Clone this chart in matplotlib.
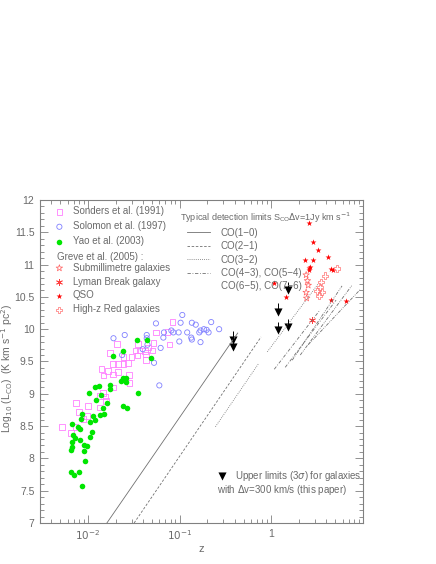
import numpy as np
import matplotlib.pyplot as plt
from matplotlib.lines import Line2D
from matplotlib.ticker import LogLocator, NullFormatter, MultipleLocator

plt.rcParams['font.family'] = ['Liberation Sans Narrow', 'Liberation Sans', 'DejaVu Sans']

# Sanders et al. (1991)
sanders_z = [0.0839, 0.0552, 0.0735, 0.0773, 0.0518, 0.0352, 0.0452, 0.0365, 0.0417, 0.0509,
             0.0330, 0.0430, 0.0347, 0.0299, 0.0430, 0.0244, 0.0207, 0.0175, 0.0187, 0.0213,
             0.0244, 0.0274, 0.0141, 0.0166, 0.0213, 0.0148, 0.0187, 0.0279, 0.0284, 0.0190,
             0.0136, 0.0156, 0.0146, 0.0158, 0.00746, 0.01008, 0.0134, 0.00798, 0.00898, 0.00518,
             0.00735, 0.00653, 0.00975]
sanders_L = [10.11, 9.95, 9.96, 9.76, 9.79, 9.77, 9.72, 9.67, 9.66, 9.67,
             9.67, 9.61, 9.59, 9.57, 9.52, 9.57, 9.77, 9.63, 9.46, 9.46,
             9.46, 9.48, 9.38, 9.35, 9.34, 9.28, 9.30, 9.29, 9.17, 9.10,
             8.97, 8.96, 9.01, 8.89, 8.86, 8.81, 8.79, 8.72, 8.61, 8.49,
             8.49, 8.39, 8.66]

# Solomon et al. (1997)
solomon_z = [0.107, 0.0552, 0.1025, 0.136, 0.150, 0.221, 0.270, 0.184, 0.169, 0.197,
             0.207, 0.164, 0.121, 0.0976, 0.0855, 0.0813, 0.0675, 0.0665, 0.134, 0.136,
             0.169, 0.0993, 0.0621, 0.0438, 0.0438, 0.0446, 0.0396, 0.0526, 0.0601, 0.0190,
             0.0252, 0.0236]
solomon_L = [10.22, 10.09, 10.10, 10.10, 10.07, 10.11, 10.00, 10.00, 9.98, 9.99,
             9.95, 9.95, 9.95, 9.95, 9.95, 9.98, 9.95, 9.87, 9.87, 9.84,
             9.80, 9.81, 9.71, 9.91, 9.86, 9.76, 9.69, 9.48, 9.13, 9.86,
             9.91, 9.60]

# Yao et al. (2003)
yao_z = [0.0347, 0.0438, 0.0493, 0.0352, 0.0187, 0.0240, 0.0119, 0.0132, 0.0172, 0.0172,
         0.01025, 0.0138, 0.0123, 0.0161, 0.0240, 0.0261, 0.0228, 0.0261, 0.0146, 0.0240,
         0.0270, 0.00867, 0.0115, 0.0136, 0.0148, 0.00839, 0.01043, 0.0119, 0.00675, 0.00773,
         0.00825, 0.01113, 0.00682, 0.01059, 0.00728, 0.00812, 0.00675, 0.00912, 0.00975, 0.00675,
         0.00658, 0.00898, 0.00921, 0.00653, 0.00798, 0.00710, 0.00861]
yao_L = [9.83, 9.83, 9.55, 9.01, 9.59, 9.67, 9.10, 9.12, 9.13, 9.07,
         9.01, 8.98, 8.90, 8.86, 9.25, 9.25, 9.20, 9.18, 8.78, 8.81,
         8.78, 8.68, 8.66, 8.67, 8.69, 8.61, 8.57, 8.59, 8.53, 8.48,
         8.46, 8.41, 8.36, 8.33, 8.31, 8.28, 8.26, 8.21, 8.19, 8.18,
         8.13, 8.11, 7.96, 7.79, 7.79, 7.75, 7.58]

# Greve et al. (2005)
smg_z = [2.40, 2.48, 2.53, 2.40, 2.43]
smg_L = [10.84, 10.75, 10.68, 10.57, 10.48]
lbg_z = [2.77]
lbg_L = [10.14]
qso_z = [2.61, 2.88, 3.24, 2.32, 2.84, 4.20, 2.65, 2.61, 2.57, 4.49, 4.76, 1.43, 4.46, 6.53, 1.08]
qso_L = [11.65, 11.35, 11.23, 11.07, 11.07, 11.11, 10.97, 10.94, 10.91, 10.93, 10.91, 10.50, 10.45, 10.43, 10.71]
hzrg_z = [5.26, 3.83, 3.49, 3.41, 3.14, 3.58, 3.30]
hzrg_L = [10.94, 10.83, 10.73, 10.65, 10.59, 10.57, 10.52]

# upper limits (this paper)
limit_z = [0.380, 0.380, 1.17, 1.17, 1.53, 1.53]
limit_L = [9.84, 9.73, 10.27, 9.98, 10.03, 10.60]

# detection limits for S_CO dv = 1 Jy km/s, read at the segment ends
co10_z, co10_L = [0.0161, 0.43], [7.0, 9.94]
co21_z, co21_L = [0.0319, 0.773], [7.0, 9.88]
co32_z, co32_L = [[0.246, 0.728], [0.905, 3.24]], [[8.49, 9.47], [9.65, 10.70]]
co43_z, co43_L = [[1.078, 3.41], [1.42, 5.09]], [[9.38, 10.30], [9.41, 10.45]]
co65_z, co65_L = [[1.69, 5.91], [2.07, 7.59], [2.53, 9.28]], [[9.52, 10.67], [9.60, 10.68], [9.76, 10.61]]

grey = '#808080'
txt = '#6a6a6a'
lc = '#707070'
fs = 7
dashdot = (0, (4, 2, 1, 2))
dashdotdot = (0, (4, 1.5, 1, 1.5, 1, 1.5))

fig = plt.figure(figsize=(4.36, 5.64), dpi=100)
ax = fig.add_axes([0.0917, 0.0727, 0.7408, 0.5727])
ax.set_xscale('log')

# detection limit lines
ax.plot(co10_z, co10_L, color=lc, lw=0.6, ls='-')
ax.plot(co21_z, co21_L, color=lc, lw=0.6, ls=(0, (3, 2)))
for zz, ll in zip(co32_z, co32_L):
    ax.plot(zz, ll, color=lc, lw=0.6, ls=(0, (1, 1.5)))
for zz, ll in zip(co43_z, co43_L):
    ax.plot(zz, ll, color=lc, lw=0.6, ls=dashdot)
for zz, ll in zip(co65_z, co65_L):
    ax.plot(zz, ll, color=lc, lw=0.6, ls=dashdotdot)

h_san = ax.scatter(sanders_z, sanders_L, marker='s', s=16, facecolors='none',
                   edgecolors='#ff80ff', linewidths=0.6)
h_sol = ax.scatter(solomon_z, solomon_L, marker='o', s=14, facecolors='none',
                   edgecolors='#8080ff', linewidths=0.6)
h_yao = ax.scatter(yao_z, yao_L, marker='o', s=16, color='#00e600', linewidths=0)
h_smg = ax.scatter(smg_z, smg_L, marker='*', s=24, facecolors='none',
                   edgecolors='#ff6060', linewidths=0.5)
h_lbg = ax.scatter(lbg_z, lbg_L, marker=(6, 2, 0), s=20, color='#ff4040', linewidths=0.6)
h_qso = ax.scatter(qso_z, qso_L, marker='*', s=20, color='#ff0000', linewidths=0)
h_hzr = ax.scatter(hzrg_z, hzrg_L, marker='P', s=20, facecolors='none',
                   edgecolors='#ff7070', linewidths=0.5)

# upper limits with arrows
ax.vlines(limit_z, limit_L, np.array(limit_L) + 0.13, color='black', lw=0.7)
h_lim = ax.scatter(limit_z, limit_L, marker='v', s=34, color='black', linewidths=0)

ax.set_xlim(0.003, 10)
ax.set_ylim(7, 12)

ax.set_xticks([0.01, 0.1, 1])
ax.set_xticklabels(['$10^{-2}$', '$10^{-1}$', '1'])
ax.xaxis.set_minor_locator(LogLocator(base=10, subs=np.arange(2, 10)))
ax.xaxis.set_minor_formatter(NullFormatter())
yt = np.arange(7, 12.01, 0.5)
ax.set_yticks(yt)
ax.set_yticklabels(['%g' % v for v in yt])
ax.yaxis.set_minor_locator(MultipleLocator(0.1))

ax.tick_params(which='both', direction='in', top=True, right=True, color=grey,
               labelcolor=txt, labelsize=7.5, width=0.6)
ax.tick_params(which='major', length=6, pad=4)
ax.tick_params(which='minor', length=3)
for sp in ax.spines.values():
    sp.set_color(grey)
    sp.set_linewidth(0.8)

ax.set_xlabel('z', color=txt, fontsize=8)
ax.xaxis.set_label_coords(0.5, -0.065)
ax.set_ylabel('Log$_{10}$ (L$_{\\rm CO}$)  (K km s$^{-1}$ pc$^2$)', color=txt, fontsize=7.5)
ax.yaxis.set_label_coords(-0.078, 0.48)

# left legend
leg1 = ax.legend([h_san, h_sol, h_yao],
                 ['Sonders et al. (1991)', 'Solomon et al. (1997)', 'Yao et al. (2003)'],
                 loc='upper left', bbox_to_anchor=(0.045, 0.98), frameon=False, fontsize=fs,
                 handlelength=1.0, handletextpad=0.9, labelspacing=0.5, borderpad=0,
                 borderaxespad=0, labelcolor=txt)
ax.add_artist(leg1)
ax.text(0.053, 0.822, 'Greve et al. (2005) :', transform=ax.transAxes, fontsize=fs,
        color=txt, va='center')
leg2 = ax.legend([h_smg, h_lbg, h_qso, h_hzr],
                 ['Submillimetre galaxies', 'Lyman Break galaxy', 'QSO', 'High-z Red galaxies'],
                 loc='upper left', bbox_to_anchor=(0.045, 0.806), frameon=False, fontsize=fs,
                 handlelength=1.0, handletextpad=0.9, labelspacing=0.4, borderpad=0,
                 borderaxespad=0, labelcolor=txt)
ax.add_artist(leg2)

# detection limit legend
ax.text(0.433, 0.945, 'Typical detection limits S$_{\\rm CO}$$\\Delta$v=1Jy km s$^{-1}$',
        transform=ax.transAxes, fontsize=6.5, color=txt, va='center')
line_handles = [Line2D([], [], color=lc, lw=0.6, ls='-'),
                Line2D([], [], color=lc, lw=0.6, ls=(0, (3, 2))),
                Line2D([], [], color=lc, lw=0.6, ls=(0, (1, 1.5))),
                Line2D([], [], color=lc, lw=0.6, ls=dashdot),
                Line2D([], [], color='none', lw=0.6)]
leg3 = ax.legend(line_handles,
                 ['CO(1\u22120)', 'CO(2\u22121)', 'CO(3\u22122)', 'CO(4\u22123), CO(5\u22124)',
                  'CO(6\u22125), CO(7\u22126)'],
                 loc='upper left', bbox_to_anchor=(0.455, 0.914), frameon=False, fontsize=fs,
                 handlelength=2.4, handletextpad=1.1, labelspacing=0.35, borderpad=0,
                 borderaxespad=0, labelcolor=txt)
ax.add_artist(leg3)

# upper limit note
ax.legend([h_lim], ['Upper limits (3$\\sigma$) for galaxies'],
          loc='upper left', bbox_to_anchor=(0.55, 0.168), frameon=False, fontsize=fs,
          handlelength=1.0, handletextpad=0.8, borderpad=0, borderaxespad=0,
          labelcolor=txt)
ax.text(0.548, 0.102, 'with $\\Delta$v=300 km/s (this paper)', transform=ax.transAxes,
        fontsize=fs, color=txt, va='center')

fig.savefig('out.png', dpi=100)
